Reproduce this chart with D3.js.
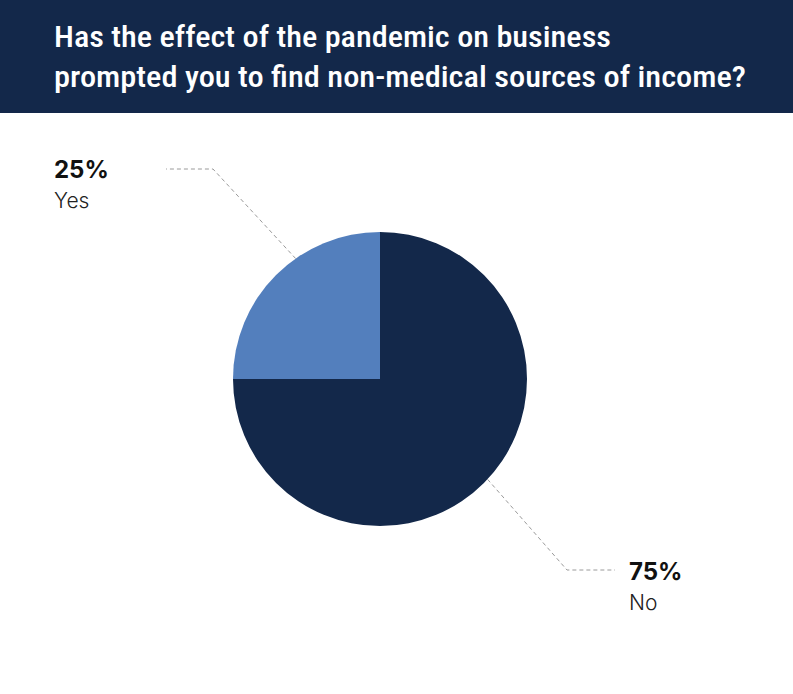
<!DOCTYPE html>
<html>
<head>
<meta charset="utf-8">
<style>
    body { margin: 0; background: #fff; }
    .title { font-family: "Roboto Condensed", "Roboto", sans-serif; font-weight: 500; fill: #fff; }
    .pct { font-family: "Inter", "Roboto", sans-serif; font-weight: 700; font-size: 24px; fill: #111; }
    .cat { font-family: "Inter", "Roboto", sans-serif; font-weight: 300; font-size: 21px; fill: #222; }
    .leader { fill: none; stroke: #9a9a9a; stroke-width: 1; stroke-dasharray: 4 3; }
</style>
</head>
<body>
<svg id="chart" width="793" height="694"></svg>
<script src="https://d3js.org/d3.v7.min.js"></script>
<script>
    var categories = ["Yes", "No"];
    var values = [25, 75];
    var titleLines = ["Has the effect of the pandemic on business",
                      "prompted you to find non-medical sources of income?"];

    var colors = ["#537fbd", "#13284a"];

    // label placement: angle on the rim (degrees, 0 = 12 o'clock), elbow, label anchor
    var labelLayout = [
        {angle: -35, elbow: [213, 169], end: [166, 169], tx: 54, ty: 178},
        {angle: 133, elbow: [567, 570], end: [615, 570], tx: 629, ty: 580}
    ];

    var width = 793, height = 694;
    var svg = d3.select("#chart");

    // header band
    svg.append("rect")
        .attr("width", width)
        .attr("height", 113)
        .attr("fill", "#13284a");

    svg.selectAll("text.title")
        .data(titleLines)
        .enter().append("text")
        .attr("class", "title")
        .attr("x", 54)
        .attr("y", function (d, i) { return 47 + i * 40; })
        .attr("font-size", 30)
        .attr("textLength", function (d, i) { return i ? 692 : 557; })
        .attr("lengthAdjust", "spacingAndGlyphs")
        .text(function (d) { return d; });

    var cx = 380, cy = 379, r = 147;

    var pie = d3.pie()
        .sort(null)
        .startAngle(-Math.PI / 2)
        .endAngle(Math.PI * 1.5);

    var arc = d3.arc().innerRadius(0).outerRadius(r);

    var data = pie(values);

    var g = svg.append("g").attr("transform", "translate(" + cx + "," + cy + ")");

    g.selectAll("path")
        .data(data)
        .enter().append("path")
        .attr("d", arc)
        .attr("fill", function (d, i) { return colors[i]; });

    // leader lines
    var line = d3.line();
    svg.selectAll("path.leader")
        .data(labelLayout)
        .enter().append("path")
        .attr("class", "leader")
        .attr("d", function (d) {
            var a = d.angle * Math.PI / 180;
            var p = [cx + r * Math.sin(a), cy - r * Math.cos(a)];
            return line([p, d.elbow, d.end]);
        });

    var labels = svg.selectAll("g.lab")
        .data(labelLayout)
        .enter().append("g");

    labels.append("text")
        .attr("class", "pct")
        .attr("x", function (d) { return d.tx; })
        .attr("y", function (d) { return d.ty; })
        .text(function (d, i) { return values[i] + "%"; });

    labels.append("text")
        .attr("class", "cat")
        .attr("x", function (d) { return d.tx; })
        .attr("y", function (d) { return d.ty + 30; })
        .text(function (d, i) { return categories[i]; });
</script>
</body>
</html>
